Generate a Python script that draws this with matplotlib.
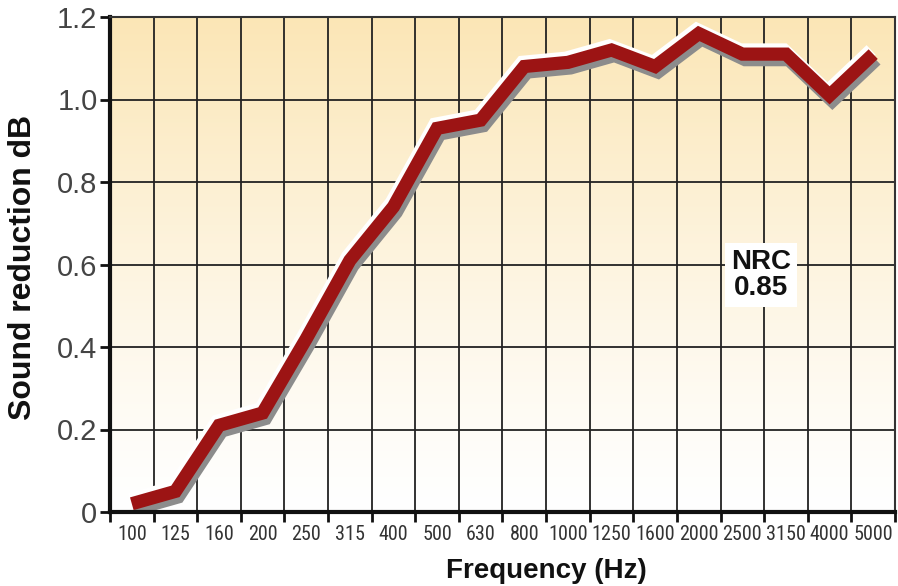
import numpy as np
import matplotlib
matplotlib.use("Agg")
import matplotlib.pyplot as plt
from matplotlib import patheffects as pe
from matplotlib import font_manager as fm

# ---- data ----
freqs = ["100", "125", "160", "200", "250", "315", "400", "500", "630", "800",
         "1000", "1250", "1600", "2000", "2500", "3150", "4000", "5000"]
absorption = [0.02, 0.05, 0.21, 0.24, 0.42, 0.61, 0.74, 0.93, 0.95, 1.08,
              1.09, 1.12, 1.08, 1.16, 1.11, 1.11, 1.01, 1.11]
y_ticks = [0, 0.2, 0.4, 0.6, 0.8, 1.0, 1.2]
y_tick_labels = ["0", "0.2", "0.4", "0.6", "0.8", "1.0", "1.2"]
nrc_label = "NRC\n0.85"
x_title = "Frequency (Hz)"
y_title = "Sound reduction dB"

names = {f.name for f in fm.fontManager.ttflist}
narrow = None
for cand in ["Liberation Sans Narrow", "Roboto Condensed", "DejaVu Sans Condensed", "Open Sans Condensed"]:
    if cand in names:
        narrow = cand
        break
sans = ["Liberation Sans", "DejaVu Sans"]

fig = plt.figure(figsize=(8.98, 5.86), dpi=100)
ax = fig.add_axes([110/898, 1-512/586, 785/898, 495/586])

n = len(freqs)
ax.set_xlim(0, n)
ax.set_ylim(0, 1.2)

# gradient background
grad = np.linspace(0, 1, 256).reshape(-1, 1)
top = np.array([251, 230, 182]) / 255
bot = np.array([255, 255, 255]) / 255
img = bot + (top - bot) * grad[:, :, None] ** 1.2
img = np.concatenate([img, np.ones((256, 1, 1))], axis=2)
ax.imshow(img, extent=[0, n, 0, 1.2], origin="lower", aspect="auto", zorder=0)

# grid
ax.set_xticks(np.arange(n) + 0.5)
ax.set_xticklabels(freqs)
ax.set_xticks(np.arange(n + 1), minor=True)
ax.set_yticks(y_ticks)
ax.set_yticklabels(y_tick_labels)
ax.grid(False)
for xv in range(1, n):
    ax.axvline(xv, color="#222222", lw=1.3, zorder=1)
for yv in y_ticks[1:-1]:
    ax.axhline(yv, color="#222222", lw=1.3, zorder=1)

ax.tick_params(axis="x", which="major", length=0, pad=9, colors="#333333")
ax.tick_params(axis="x", which="minor", length=7, width=2, direction="out", color="#111111")
ax.tick_params(axis="y", which="major", length=7, width=2, direction="out",
               colors="#444444", pad=2)
ax.tick_params(axis="y", color="#111111")
for t in ax.get_yticklabels():
    t.set_fontfamily(sans)
    t.set_fontsize(21)
for t in ax.get_xticklabels():
    if narrow:
        t.set_fontfamily([narrow, "DejaVu Sans"])
        t.set_fontsize(14.5)
    else:
        t.set_fontsize(13)

ax.spines["left"].set_linewidth(3)
ax.spines["bottom"].set_linewidth(3)
ax.spines["left"].set_color("#111111")
ax.spines["bottom"].set_color("#111111")
ax.spines["top"].set_linewidth(1.5)
ax.spines["right"].set_linewidth(1.5)
ax.spines["top"].set_color("#333333")
ax.spines["right"].set_color("#333333")
for s in ax.spines.values():
    s.set_zorder(5)

# line
xs = np.arange(n) + 0.5
ax.plot(xs, absorption, color="#9C1414", lw=9.5, solid_capstyle="butt",
        solid_joinstyle="miter", zorder=4,
        path_effects=[
            pe.SimpleLineShadow(offset=(-1.5, 3.0), shadow_color="white", alpha=1.0),
            pe.SimpleLineShadow(offset=(2.0, -4.0), shadow_color="#8c8c8c", alpha=1.0),
            pe.Normal()])

ax.text((761-110)/785, (512-275)/495, nrc_label, transform=ax.transAxes,
        ha="center", va="center", fontsize=20, fontweight="bold", color="#111111",
        family=sans, linespacing=1.0, zorder=6,
        bbox=dict(boxstyle="square,pad=0.2", fc="white", ec="none"))

fig.text(23/898, 1-267/586, y_title, rotation=90, ha="center", va="center",
         fontsize=23, fontweight="bold", color="#111111", family=sans)
fig.text(546/898, 1-578/586, x_title, ha="center", va="baseline",
         fontsize=20, fontweight="bold", color="#111111", family=sans)

fig.savefig("out.png", dpi=100)
